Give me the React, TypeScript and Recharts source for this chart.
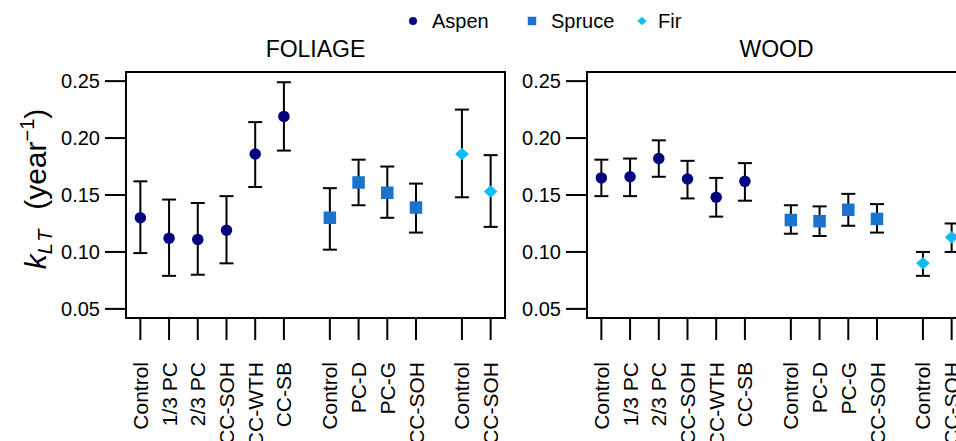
import { ScatterChart, Scatter, XAxis, YAxis, ErrorBar, ReferenceArea } from 'recharts';

// treatments per species, in plotting order
const aspenTreatments = ['Control', '1/3 PC', '2/3 PC', 'CC-SOH', 'CC-WTH', 'CC-SB'];
const spruceTreatments = ['Control', 'PC-D', 'PC-G', 'CC-SOH'];
const firTreatments = ['Control', 'CC-SOH'];

// k_LT estimates, 12 values per panel (aspen, spruce, fir)
const foliageMean = [0.130, 0.112, 0.111, 0.119, 0.186, 0.219, 0.130, 0.161, 0.152, 0.139, 0.186, 0.153];
const foliageLower = [0.099, 0.079, 0.080, 0.090, 0.157, 0.189, 0.102, 0.141, 0.130, 0.117, 0.148, 0.122];
const foliageUpper = [0.162, 0.146, 0.143, 0.149, 0.214, 0.249, 0.156, 0.181, 0.175, 0.160, 0.225, 0.185];

const woodMean = [0.165, 0.166, 0.182, 0.164, 0.148, 0.162, 0.128, 0.127, 0.137, 0.129, 0.090, 0.113];
const woodLower = [0.149, 0.149, 0.166, 0.147, 0.131, 0.145, 0.116, 0.114, 0.123, 0.117, 0.079, 0.100];
const woodUpper = [0.181, 0.182, 0.198, 0.180, 0.165, 0.178, 0.141, 0.140, 0.151, 0.142, 0.100, 0.125];

const yTicks = [0.05, 0.1, 0.15, 0.2, 0.25];

const species = [
  { name: 'Aspen', treatments: aspenTreatments, color: '#03037e', shape: 'circle' },
  { name: 'Spruce', treatments: spruceTreatments, color: '#1a73cc', shape: 'square' },
  { name: 'Fir', treatments: firTreatments, color: '#0bbcf5', shape: 'diamond' },
];

const FONT = '"Liberation Sans", Arial, Helvetica, sans-serif';
const GROUP_GAP = 0.6;
const X_DOMAIN = [0.5, 13.7];
const Y_DOMAIN = [0.042, 0.258];

// x position of every treatment, with a small gap between species groups
const positions: number[] = [];
const labels: string[] = [];
{
  let i = 0;
  species.forEach((s, g) => {
    s.treatments.forEach(t => {
      positions.push(i + 1 + g * GROUP_GAP);
      labels.push(t);
      i++;
    });
  });
}

function buildRows(mean: number[], lower: number[], upper: number[]) {
  let i = 0;
  return species.map(s =>
    s.treatments.map(t => {
      const row = {
        x: positions[i],
        y: mean[i],
        err: [mean[i] - lower[i], upper[i] - mean[i]],
        treatment: t,
      };
      i++;
      return row;
    })
  );
}

function Marker({ cx, cy, shape, color, size }: any) {
  if (cx == null || cy == null) return null;
  if (shape === 'circle') return <circle cx={cx} cy={cy} r={size / 2} fill={color} />;
  if (shape === 'square')
    return <rect x={cx - size / 2} y={cy - size / 2} width={size} height={size} fill={color} />;
  const w = size * 0.55, h = size * 0.5;
  return <polygon points={`${cx - w},${cy} ${cx},${cy - h} ${cx + w},${cy} ${cx},${cy + h}`} fill={color} />;
}

function CategoryTick({ x, y, payload }: any) {
  const idx = positions.indexOf(payload.value);
  return (
    <text x={x} y={y} dy="0.36em" transform={`rotate(-90, ${x}, ${y})`} textAnchor="end" fontSize={21} fill="#000">
      {labels[idx]}
    </text>
  );
}

function Panel({ mean, lower, upper, left }: any) {
  const rows = buildRows(mean, lower, upper);
  const axisStroke = { stroke: '#000', strokeWidth: 2 };
  return (
    <div style={{ position: 'absolute', left, top: 0 }}>
      <ScatterChart width={520} height={441} margin={{ top: 72, right: 15, bottom: 0, left: 0 }}>
        <XAxis
          type="number"
          dataKey="x"
          domain={X_DOMAIN}
          ticks={positions}
          interval={0}
          allowDataOverflow
          height={123}
          tickSize={22}
          tickMargin={22}
          axisLine={axisStroke}
          tickLine={axisStroke}
          tick={<CategoryTick />}
        />
        <YAxis
          type="number"
          dataKey="y"
          domain={Y_DOMAIN}
          ticks={yTicks}
          allowDataOverflow
          width={126}
          tickSize={21}
          tickMargin={5}
          tickFormatter={(v: number) => v.toFixed(2)}
          axisLine={axisStroke}
          tickLine={axisStroke}
          tick={{ fontSize: 20, fill: '#000' }}
        />
        {/* plot frame */}
        <ReferenceArea
          x1={X_DOMAIN[0]}
          x2={X_DOMAIN[1]}
          y1={Y_DOMAIN[0]}
          y2={Y_DOMAIN[1]}
          fill="none"
          fillOpacity={0}
          stroke="#000"
          strokeWidth={2}
          ifOverflow="visible"
        />
        {species.map((s, k) => (
          <Scatter
            key={s.name}
            name={s.name}
            data={rows[k]}
            isAnimationActive={false}
            shape={(p: any) => <Marker cx={p.cx} cy={p.cy} shape={s.shape} color={s.color} size={s.shape === 'circle' ? 11.5 : 12.5} />}
          >
            <ErrorBar dataKey="err" direction="y" width={7} stroke="#000" strokeWidth={2} isAnimationActive={false} />
          </Scatter>
        ))}
      </ScatterChart>
    </div>
  );
}

const legendPos = [
  { marker: 413, text: 432 },
  { marker: 532, text: 551 },
  { marker: 642, text: 658 },
];

export default function App() {
  return (
    <div style={{ position: 'fixed', left: 0, top: 0, width: 956, height: 441, overflow: 'hidden', background: '#fff', fontFamily: FONT }}>
      <Panel mean={foliageMean} lower={foliageLower} upper={foliageUpper} left={0} />
      <Panel mean={woodMean} lower={woodLower} upper={woodUpper} left={461} />
      <svg width={956} height={441} style={{ position: 'absolute', left: 0, top: 0, pointerEvents: 'none' }}>
        {species.map((s, k) => (
          <g key={s.name}>
            <Marker cx={legendPos[k].marker} cy={21} shape={s.shape} color={s.color} size={s.shape === 'circle' ? 8 : 8.5} />
            <text x={legendPos[k].text} y={28} fontSize={20} fill="#000">{s.name}</text>
          </g>
        ))}
        <text x={315.5} y={57} textAnchor="middle" fontSize={23} fill="#000">FOLIAGE</text>
        <text x={776.5} y={57} textAnchor="middle" fontSize={23} fill="#000">WOOD</text>
        <text transform="rotate(-90)" x={-189} y={46} textAnchor="middle" fontSize={30} fill="#000" style={{ whiteSpace: 'pre' }}>
          <tspan fontStyle="italic">k</tspan>
          <tspan fontStyle="italic" fontSize={20} dy={6} letterSpacing={3}>LT</tspan>
          <tspan dy={-6}>{'  (year'}</tspan>
          <tspan fontSize={20} dy={-12}>−1</tspan>
          <tspan dy={12}>)</tspan>
        </text>
      </svg>
    </div>
  );
}
